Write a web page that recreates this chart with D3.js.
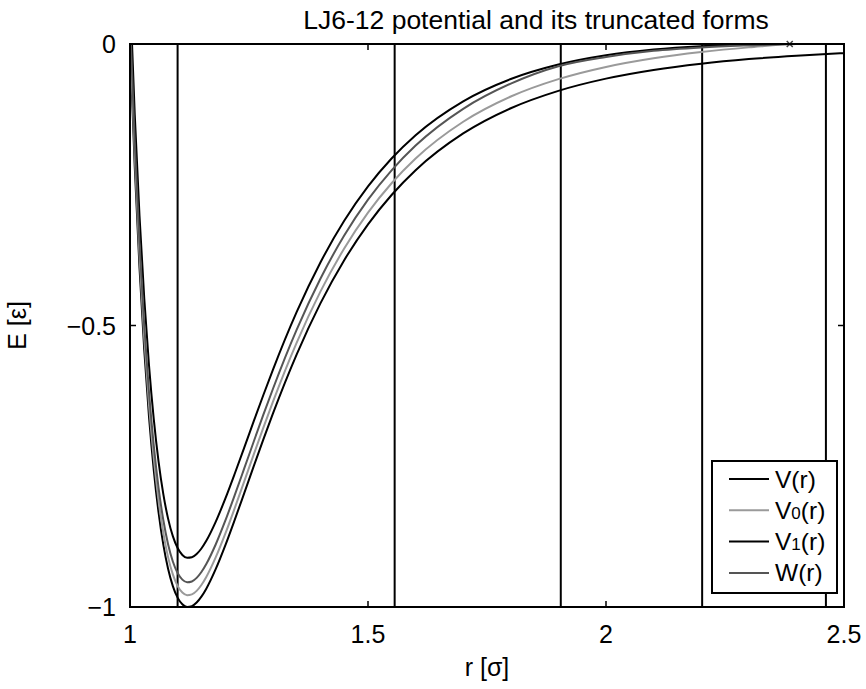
<!DOCTYPE html>
<html>
<head>
<meta charset="utf-8">
<script src="https://cdn.jsdelivr.net/npm/d3@7"></script>
<style>
  body { margin: 0; background: #fff; }
  text { font-family: "Liberation Sans", Arial, Helvetica, sans-serif; fill: #000; }
</style>
</head>
<body>
<div id="chart"></div>
<script>
// distances r [sigma]
const rValues = [1.00, 1.01, 1.02, 1.03, 1.04, 1.05, 1.06, 1.07, 1.08, 1.09,
                 1.10, 1.11, 1.12, 1.13, 1.14, 1.15, 1.16, 1.18, 1.20, 1.22,
                 1.24, 1.26, 1.28, 1.30, 1.35, 1.40, 1.45, 1.50, 1.55, 1.60,
                 1.70, 1.80, 1.90, 2.00, 2.10, 2.20, 2.30, 2.40, 2.50];

// V(r) full potential
const vFull = [0, -0.2184, -0.3979, -0.5444, -0.6629, -0.7575, -0.8320, -0.8893, -0.9322, -0.9629,
               -0.9834, -0.9952, -0.9998, -0.9984, -0.9921, -0.9817, -0.9679, -0.9328, -0.8910, -0.8452,
               -0.7977, -0.7498, -0.7027, -0.6570, -0.5516, -0.4607, -0.3840, -0.3203, -0.2677, -0.2242,
               -0.1589, -0.1141, -0.0832, -0.0615, -0.0461, -0.0350, -0.0268, -0.0208, -0.0163];

// V0(r) shifted
const vZero = [0.0208, -0.1976, -0.3771, -0.5236, -0.6421, -0.7367, -0.8112, -0.8685, -0.9114, -0.9421,
               -0.9626, -0.9744, -0.9790, -0.9776, -0.9713, -0.9609, -0.9471, -0.9120, -0.8702, -0.8244,
               -0.7769, -0.7290, -0.6819, -0.6362, -0.5308, -0.4399, -0.3632, -0.2995, -0.2469, -0.2034,
               -0.1381, -0.0933, -0.0624, -0.0407, -0.0253, -0.0142, -0.0060, 0, 0];

// V1(r) shifted force
const vOne = [0.0933, -0.1256, -0.3056, -0.4526, -0.5717, -0.6668, -0.7418, -0.7996, -0.8430, -0.8742,
              -0.8953, -0.9076, -0.9127, -0.9118, -0.9060, -0.8961, -0.8829, -0.8488, -0.8080, -0.7633,
              -0.7168, -0.6699, -0.6239, -0.5792, -0.4764, -0.3881, -0.3140, -0.2529, -0.2029, -0.1620,
              -0.1018, -0.0622, -0.0365, -0.0200, -0.0098, -0.0038, -0.0008, 0, 0];

// W(r)
const wVals = [0.0438, -0.1746, -0.3541, -0.5006, -0.6191, -0.7137, -0.7882, -0.8455, -0.8884, -0.9191,
               -0.9396, -0.9514, -0.9560, -0.9546, -0.9483, -0.9379, -0.9241, -0.8890, -0.8472, -0.8014,
               -0.7539, -0.7060, -0.6589, -0.6132, -0.5078, -0.4169, -0.3402, -0.2765, -0.2239, -0.1804,
               -0.1151, -0.0703, -0.0394, -0.0230, -0.0120, -0.0060, -0.0025, 0, 0];

const seriesNames = ["V", "V0", "V1", "W"];
const seriesSub = ["", "0", "1", ""];
const seriesColors = ["#000000", "#9a9a9a", "#000000", "#555555"];

// vertical marker lines (r positions)
const vLines = [1.10, 1.556, 1.905, 2.202, 2.462];
const crossPoint = [2.386, 0];

const xTicks = [1, 1.5, 2, 2.5];
const yTicks = [0, -0.5, -1];

const W = 866, H = 689;
const m = {left: 130, right: 22, top: 44, bottom: 82};
const pw = W - m.left - m.right, ph = H - m.top - m.bottom;

const svg = d3.select("#chart").append("svg")
    .attr("width", W).attr("height", H);

const x = d3.scaleLinear().domain([1, 2.5]).range([m.left, m.left + pw]);
const y = d3.scaleLinear().domain([-1, 0]).range([m.top + ph, m.top]);

svg.append("clipPath").attr("id", "clip")
  .append("rect").attr("x", m.left).attr("y", m.top).attr("width", pw).attr("height", ph);

// title
svg.append("text")
    .attr("x", 536).attr("y", 29)
    .attr("text-anchor", "middle")
    .style("font-size", "26.5px")
    .text("LJ6-12 potential and its truncated forms");

// axis tick labels
const fmt = d => d === 0 ? "0" : d3.format("")(d).replace("-", "\u2212");
svg.append("g").selectAll("text").data(xTicks).enter().append("text")
    .attr("x", d => x(d)).attr("y", 643)
    .attr("text-anchor", "middle")
    .style("font-size", "25px")
    .text(d => fmt(d));

svg.append("g").selectAll("text").data(yTicks).enter().append("text")
    .attr("x", 116).attr("y", d => y(d) + 9)
    .attr("text-anchor", "end")
    .style("font-size", "25px")
    .text(d => fmt(d));

// inner tick marks
const tk = svg.append("g").attr("stroke", "#000").attr("stroke-width", 1.5);
xTicks.slice(1, 3).forEach(t => {
  tk.append("line").attr("x1", x(t)).attr("x2", x(t)).attr("y1", y(-1)).attr("y2", y(-1) - 6);
  tk.append("line").attr("x1", x(t)).attr("x2", x(t)).attr("y1", y(0)).attr("y2", y(0) + 6);
});
tk.append("line").attr("x1", x(1)).attr("x2", x(1) + 6).attr("y1", y(-0.5)).attr("y2", y(-0.5));
tk.append("line").attr("x1", x(2.5)).attr("x2", x(2.5) - 6).attr("y1", y(-0.5)).attr("y2", y(-0.5));

// axis titles
svg.append("text")
    .attr("x", m.left + pw / 2).attr("y", 676)
    .attr("text-anchor", "middle")
    .style("font-size", "25px")
    .text("r [σ]");

svg.append("text")
    .attr("transform", `translate(26, ${m.top + ph / 2}) rotate(-90)`)
    .attr("text-anchor", "middle")
    .style("font-size", "25px")
    .text("E [ε]");

// vertical lines
svg.append("g").selectAll("line").data(vLines).enter().append("line")
    .attr("x1", d => x(d)).attr("x2", d => x(d))
    .attr("y1", y(0)).attr("y2", y(-1))
    .attr("stroke", "#000").attr("stroke-width", 2);

// curves
const allSeries = [vFull, vZero, vOne, wVals];
const line = d3.line()
    .x(d => x(d[0])).y(d => y(d[1]))
    .curve(d3.curveMonotoneX);

const curves = svg.append("g").attr("clip-path", "url(#clip)");
allSeries.forEach((vals, i) => {
  curves.append("path")
      .datum(rValues.map((r, k) => [r, vals[k]]))
      .attr("fill", "none")
      .attr("stroke", seriesColors[i])
      .attr("stroke-width", 2)
      .attr("d", line);
});

// cross marker
const cx = x(crossPoint[0]), cy = y(crossPoint[1]);
svg.append("path")
    .attr("d", `M${cx - 3},${cy - 3}L${cx + 3},${cy + 3}M${cx - 3},${cy + 3}L${cx + 3},${cy - 3}`)
    .attr("stroke", "#444").attr("stroke-width", 1.5);

// frame
svg.append("rect")
    .attr("x", m.left).attr("y", m.top).attr("width", pw).attr("height", ph)
    .attr("fill", "none").attr("stroke", "#000").attr("stroke-width", 2);

// legend
const lg = svg.append("g");
lg.append("rect")
    .attr("x", 712).attr("y", 461).attr("width", 125).attr("height", 132)
    .attr("fill", "#fff").attr("stroke", "#000").attr("stroke-width", 2);

seriesNames.forEach((name, i) => {
  const ly = 479 + i * 31.3;
  lg.append("line")
      .attr("x1", 729).attr("x2", 769).attr("y1", ly).attr("y2", ly)
      .attr("stroke", seriesColors[i]).attr("stroke-width", 2);
  const t = lg.append("text")
      .attr("x", 775).attr("y", ly + 8.5)
      .style("font-size", "24.5px");
  t.append("tspan").text(name.charAt(0));
  if (seriesSub[i]) t.append("tspan").style("font-size", "17px").text(seriesSub[i]);
  t.append("tspan").text("(r)");
});
</script>
</body>
</html>
